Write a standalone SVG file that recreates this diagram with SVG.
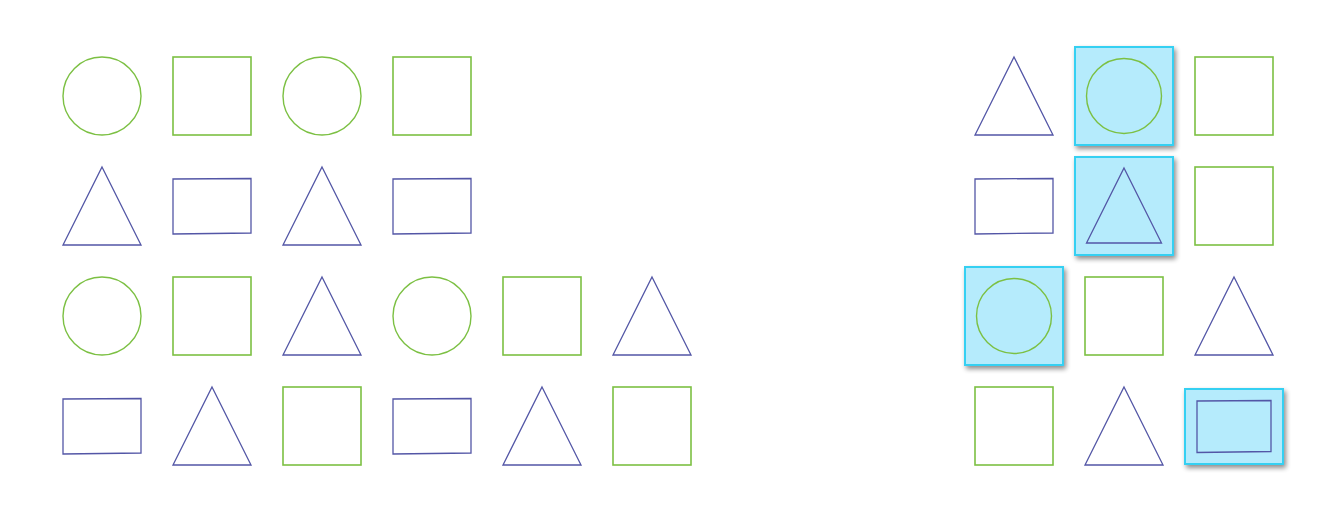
<svg xmlns="http://www.w3.org/2000/svg" width="1328" height="527" viewBox="0 0 1328 527">
<defs>
<style>
.g{fill:none;stroke:#7cc043;stroke-width:1.6}
.gc{fill:none;stroke:#7cc043;stroke-width:1.4}
.b{fill:none;stroke:#5356a6;stroke-width:1.3;stroke-linejoin:miter}
.hl{fill:#b5ebfc;stroke:#36d0f2;stroke-width:2;filter:url(#sh)}
</style>
<filter id="sh" x="-20%" y="-20%" width="150%" height="150%">
<feGaussianBlur in="SourceAlpha" stdDeviation="2.5"/>
<feOffset dx="2" dy="3" result="o"/>
<feComponentTransfer><feFuncA type="linear" slope="0.45"/></feComponentTransfer>
<feMerge><feMergeNode/><feMergeNode in="SourceGraphic"/></feMerge>
</filter>
</defs>
<rect width="1328" height="527" fill="#ffffff"/>
<g id="left">
<g id="l-r1c1"><circle class="gc" cx="102" cy="96" r="39"/></g>
<g id="l-r1c2"><rect class="g" x="173" y="57" width="78" height="78"/></g>
<g id="l-r1c3"><circle class="gc" cx="322" cy="96" r="39"/></g>
<g id="l-r1c4"><rect class="g" x="393" y="57" width="78" height="78"/></g>

<g id="l-r2c1"><polygon class="b" points="102,167 141,245 63,245"/></g>
<g id="l-r2c2"><polygon class="b" points="173,179 251,178.5 251,233 173,234"/></g>
<g id="l-r2c3"><polygon class="b" points="322,167 361,245 283,245"/></g>
<g id="l-r2c4"><polygon class="b" points="393,179 471,178.5 471,233 393,234"/></g>

<g id="l-r3c1"><circle class="gc" cx="102" cy="316" r="39"/></g>
<g id="l-r3c2"><rect class="g" x="173" y="277" width="78" height="78"/></g>
<g id="l-r3c3"><polygon class="b" points="322,277 361,355 283,355"/></g>
<g id="l-r3c4"><circle class="gc" cx="432" cy="316" r="39"/></g>
<g id="l-r3c5"><rect class="g" x="503" y="277" width="78" height="78"/></g>
<g id="l-r3c6"><polygon class="b" points="652,277 691,355 613,355"/></g>

<g id="l-r4c1"><polygon class="b" points="63,399 141,398.5 141,453 63,454"/></g>
<g id="l-r4c2"><polygon class="b" points="212,387 251,465 173,465"/></g>
<g id="l-r4c3"><rect class="g" x="283" y="387" width="78" height="78"/></g>
<g id="l-r4c4"><polygon class="b" points="393,399 471,398.5 471,453 393,454"/></g>
<g id="l-r4c5"><polygon class="b" points="542,387 581,465 503,465"/></g>
<g id="l-r4c6"><rect class="g" x="613" y="387" width="78" height="78"/></g>
</g>
<g id="right">
<g id="r-r1c1"><polygon class="b" points="1014,57 1053,135 975,135"/></g>
<g id="r-r1c2"><rect class="hl" x="1075" y="47" width="98" height="98"/><circle class="gc" cx="1124" cy="96" r="37.5"/></g>
<g id="r-r1c3"><rect class="g" x="1195" y="57" width="78" height="78"/></g>

<g id="r-r2c1"><polygon class="b" points="975,179 1053,178.5 1053,233 975,234"/></g>
<g id="r-r2c2"><rect class="hl" x="1075" y="157" width="98" height="98"/><polygon class="b" points="1124,168 1161.5,243 1086.5,243"/></g>
<g id="r-r2c3"><rect class="g" x="1195" y="167" width="78" height="78"/></g>

<g id="r-r3c1"><rect class="hl" x="965" y="267" width="98" height="98"/><circle class="gc" cx="1014" cy="316" r="37.5"/></g>
<g id="r-r3c2"><rect class="g" x="1085" y="277" width="78" height="78"/></g>
<g id="r-r3c3"><polygon class="b" points="1234,277 1273,355 1195,355"/></g>

<g id="r-r4c1"><rect class="g" x="975" y="387" width="78" height="78"/></g>
<g id="r-r4c2"><polygon class="b" points="1124,387 1163,465 1085,465"/></g>
<g id="r-r4c3"><rect class="hl" x="1185" y="389" width="98" height="75"/><polygon class="b" points="1197,401 1271,400.5 1271,451.5 1197,452.5"/></g>
</g>
</svg>
